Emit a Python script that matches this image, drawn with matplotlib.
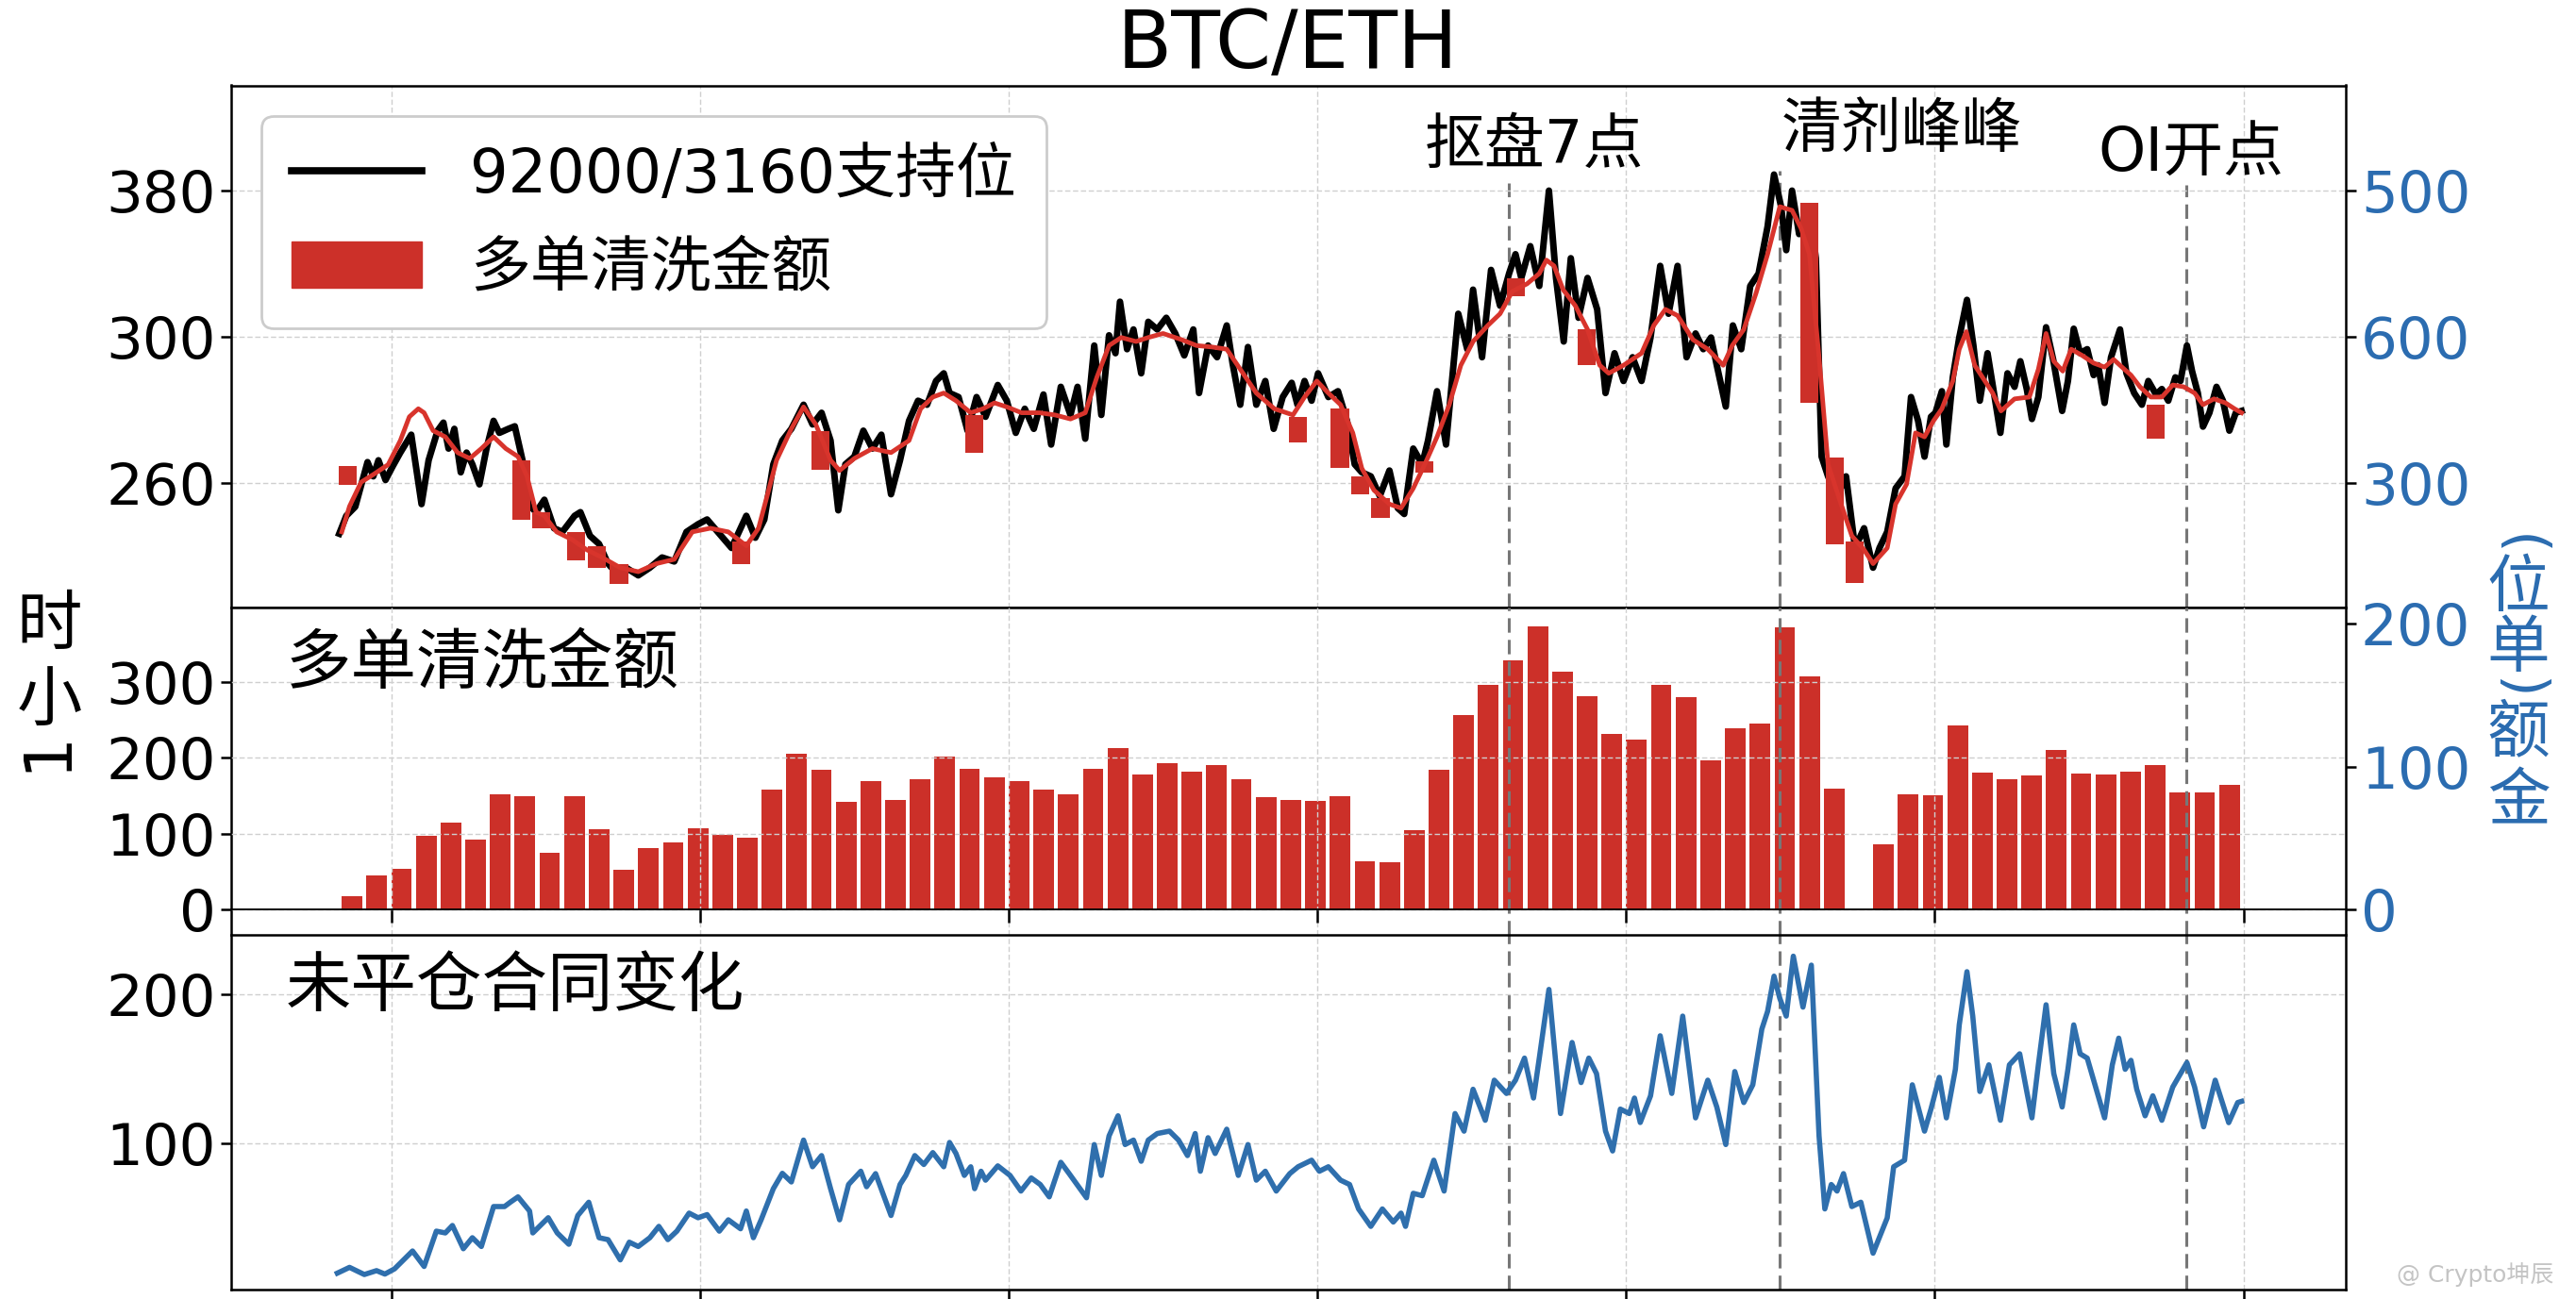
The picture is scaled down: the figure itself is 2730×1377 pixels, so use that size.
import numpy as np
import matplotlib.pyplot as plt
from matplotlib.lines import Line2D
from matplotlib.patches import Patch

plt.rcParams['font.family'] = ['DejaVu Sans', 'Noto Sans CJK SC']

RED = '#cc3029'
BLUE = '#2b6cb0'

# price panel, x in hours (tick every 48h), y on the panel's own scale
price_t = [-8.1, -7.0, -5.6, -3.7, -2.8, -2.0, -0.9, 0.2, 1.4, 3.1, 4.7, 5.8, 7.2, 8.1, 8.9, 9.8, 10.8, 11.7,
           12.6, 13.7, 14.8, 15.9, 16.8, 18.2, 19.2, 20.4, 21.3, 22.5, 23.8, 25.3, 26.6, 28.5, 29.4, 30.9, 32.3,
           33.7, 35.1, 36.5, 38.4, 40.2, 42.1, 44.0, 45.9, 47.7, 49.1, 51.0, 52.9, 55.2, 56.6, 58.0, 59.4, 60.8,
           62.2, 64.1, 65.5, 66.9, 68.3, 69.5, 70.6, 72.0, 73.4, 74.8, 76.2, 77.7, 79.1, 80.5, 81.9, 83.3, 84.7,
           85.9, 86.8, 88.2, 89.6, 91.0, 92.4, 94.3, 95.7, 97.1, 98.5, 99.9, 101.4, 102.6, 104.1, 105.6, 106.7,
           107.9, 109.3, 110.4, 111.6, 112.6, 113.3, 114.4, 115.4, 116.6, 117.7, 119.1, 120.5, 121.9, 123.3,
           124.7, 125.6, 127.0, 128.4, 129.9, 130.8, 132.0, 133.2, 134.5, 135.9, 137.2, 138.6, 140.0, 140.9,
           142.0, 143.1, 144.1, 145.7, 147.2, 148.6, 149.8, 150.9, 152.3, 153.7, 155.2, 156.5, 157.5, 158.9,
           160.3, 161.2, 162.6, 164.0, 165.9, 167.3, 168.2, 169.6, 171.0, 172.4, 173.8, 174.8, 175.7, 177.1,
           178.5, 180.0, 181.1, 182.3, 183.4, 184.6, 186.0, 187.5, 188.8, 190.2, 191.6, 193.0, 194.4, 195.8,
           197.3, 198.6, 200.0, 201.4, 202.8, 204.0, 205.2, 206.1, 207.5, 208.6, 209.9, 211.3, 212.6, 214.0,
           215.0, 216.1, 216.9, 217.8, 218.9, 220.5, 221.5, 222.4, 223.4, 224.8, 226.2, 227.6, 229.0, 230.4,
           231.4, 232.6, 233.9, 235.3, 236.3, 237.4, 238.4, 239.4, 240.1, 241.1, 241.8, 242.8, 243.8, 245.0,
           246.0, 247.0, 248.2, 250.2, 251.3, 252.4, 253.3, 254.3, 255.1, 256.1, 257.3, 258.4, 259.8, 260.7,
           261.6, 262.6, 263.7, 264.7, 265.4, 266.4, 267.4, 268.8, 269.8, 271.0, 272.2, 273.2, 274.4, 275.3,
           276.3, 277.4, 278.2, 279.2, 280.0, 280.9, 281.7, 282.7, 283.8, 284.8, 285.8, 286.8, 287.7]
price = [246.1, 251.0, 253.5, 265.7, 261.8, 266.2, 260.8, 264.5, 268.3, 273.2, 254.2, 266.2, 274.3, 276.5, 269.4,
         274.8, 262.9, 268.3, 265.1, 259.6, 269.4, 277.0, 273.7, 274.8, 275.5, 266.2, 254.2, 252.0, 255.4, 247.6,
         246.6, 251.0, 252.0, 245.5, 243.3, 237.9, 235.2, 236.8, 234.7, 236.8, 239.6, 238.5, 246.6, 248.7, 250.0,
         246.1, 242.2, 251.0, 245.0, 250.0, 265.1, 271.6, 274.8, 281.4, 276.0, 279.2, 271.6, 252.5, 265.1, 267.2,
         274.3, 269.4, 273.2, 256.9, 266.2, 277.0, 282.5, 281.4, 287.9, 290.0, 284.6, 283.5, 274.3, 283.5, 278.1,
         286.8, 282.5, 273.7, 280.3, 274.8, 284.2, 270.5, 286.3, 278.6, 286.3, 272.1, 297.6, 278.6, 300.4, 295.5,
         309.6, 296.6, 302.0, 290.0, 304.1, 302.0, 305.2, 300.9, 294.9, 302.0, 284.6, 297.6, 294.4, 303.1, 292.8,
         281.4, 297.2, 281.4, 287.9, 274.8, 283.5, 287.4, 281.4, 287.9, 282.5, 290.0, 283.5, 285.1, 277.0, 265.1,
         262.9, 261.8, 256.4, 263.4, 253.1, 251.5, 269.4, 265.1, 271.6, 285.1, 270.5, 306.3, 296.6, 312.9, 294.4,
         318.3, 308.5, 317.3, 322.6, 316.1, 324.8, 313.9, 340.0, 316.1, 298.7, 321.5, 305.2, 316.1, 307.5, 284.6,
         295.5, 287.9, 294.4, 287.9, 299.8, 319.4, 306.3, 319.4, 294.4, 300.9, 296.6, 299.8, 292.2, 280.9, 303.1,
         296.6, 313.9, 317.3, 330.2, 344.4, 335.6, 323.7, 340.0, 328.1, 335.6, 321.5, 267.2, 261.8, 256.4, 261.8,
         242.2, 247.6, 236.8, 242.2, 246.6, 258.5, 261.8, 283.5, 277.0, 267.2, 278.1, 279.2, 285.1, 270.5, 288.9,
         299.8, 310.1, 297.6, 282.5, 295.5, 273.7, 290.0, 286.3, 293.3, 285.7, 277.5, 283.5, 302.6, 293.8, 279.7,
         287.9, 302.2, 295.5, 296.6, 289.5, 292.2, 281.9, 294.4, 302.0, 290.0, 284.6, 281.4, 287.9, 284.2, 285.7,
         282.5, 288.9, 287.9, 297.6, 290.6, 284.6, 275.4, 279.2, 286.3, 282.5, 274.3, 279.2, 279.7]

ma_t = [-7.7, -6.5, -4.7, -2.8, -0.5, 1.4, 2.8, 4.2, 5.1, 6.5, 8.4, 10.3, 12.2, 14.0, 15.9, 17.8, 19.7, 21.1,
        22.5, 23.8, 25.7, 28.1, 30.4, 32.8, 35.6, 38.4, 41.2, 44.0, 46.8, 49.6, 52.4, 55.2, 57.1, 59.9, 62.2,
        64.1, 66.0, 68.3, 69.7, 72.0, 74.8, 77.7, 80.5, 82.3, 84.2, 85.9, 87.8, 90.1, 92.0, 93.8, 95.7, 98.0,
        100.8, 103.2, 105.6, 107.9, 109.7, 111.6, 113.5, 115.8, 117.7, 120.0, 122.9, 125.2, 127.6, 129.9,
        132.2, 134.5, 137.3, 140.2, 142.0, 143.9, 145.7, 147.6, 149.5, 150.9, 152.8, 155.2, 157.0, 158.9,
        160.7, 162.6, 164.5, 166.3, 168.2, 170.5, 172.4, 174.3, 176.6, 178.5, 179.6, 180.8, 182.2, 184.1,
        186.0, 187.9, 189.3, 191.6, 194.4, 196.3, 198.1, 200.0, 202.4, 204.7, 207.1, 208.5, 210.3, 212.2,
        214.0, 215.9, 217.8, 219.2, 220.5, 222.0, 223.4, 225.2, 227.1, 229.0, 230.4, 232.6, 233.9, 235.6,
        237.0, 238.4, 239.8, 241.1, 242.8, 243.8, 244.9, 246.2, 247.6, 249.0, 250.3, 252.4, 254.7, 256.1,
        257.3, 258.5, 259.9, 261.2, 262.9, 264.7, 266.4, 267.8, 269.1, 270.5, 271.9, 273.6, 275.3, 277.0,
        278.7, 280.4, 281.7, 283.4, 285.2, 286.6, 287.7]
ma = [246.6, 253.6, 260.2, 262.3, 265.0, 271.6, 278.1, 280.3, 279.2, 274.3, 272.6, 268.3, 266.7, 269.4, 272.6,
      269.4, 267.2, 261.8, 252.0, 251.0, 246.6, 244.5, 241.7, 239.6, 236.8, 235.7, 237.9, 239.1, 246.6, 247.6,
      246.6, 242.8, 247.6, 266.2, 274.8, 280.8, 276.0, 266.2, 263.4, 266.7, 269.4, 268.3, 271.6, 280.3, 283.5,
      284.6, 282.5, 279.2, 280.3, 281.9, 280.8, 279.2, 279.2, 278.6, 277.5, 279.2, 288.9, 297.6, 299.8, 298.7,
      299.8, 300.9, 299.2, 297.6, 297.2, 296.6, 290.6, 284.6, 280.3, 278.6, 283.5, 287.9, 284.6, 281.4, 273.7,
      264.0, 258.0, 254.2, 253.1, 258.5, 265.1, 272.6, 281.4, 292.2, 298.7, 303.1, 306.3, 312.4, 314.5, 317.3,
      321.0, 319.4, 312.9, 308.5, 302.0, 292.2, 290.0, 292.2, 295.5, 303.1, 307.5, 305.8, 299.2, 296.6, 292.2,
      297.6, 302.0, 311.9, 322.6, 335.6, 334.6, 329.7, 322.6, 294.4, 265.1, 255.4, 245.5, 241.7, 237.9, 242.2,
      254.2, 259.6, 273.7, 272.6, 277.0, 280.3, 287.9, 296.6, 301.4, 292.2, 288.4, 284.6, 279.7, 283.0, 283.5,
      291.1, 300.9, 293.3, 290.6, 296.6, 294.9, 292.8, 291.7, 293.8, 291.7, 289.5, 286.3, 283.5, 283.5, 286.8,
      286.3, 284.6, 281.4, 283.0, 281.9, 280.3, 279.2]

# red blocks hanging on the price line
wash_t = [-6.8, 20.2, 23.3, 28.7, 32.0, 35.4, 54.4, 66.7, 90.7, 140.9, 147.5, 150.7, 153.8, 160.6, 174.9,
          185.9, 220.5, 224.4, 227.5, 274.4]
wash_top = [264.5, 266.2, 252.0, 246.6, 242.7, 237.8, 243.9, 274.3, 278.6, 278.0, 280.3, 261.8, 255.9, 266.0,
            316.1, 302.0, 336.7, 267.0, 243.9, 281.4]
wash_bot = [259.5, 250.0, 247.6, 238.8, 236.8, 232.4, 237.7, 263.6, 268.3, 271.0, 264.0, 256.9, 250.4, 262.8,
            311.2, 292.2, 281.9, 243.3, 232.7, 272.1]

# long liquidation amount, one bar per ~4h
liq = [17, 45, 54, 97, 114, 92, 152, 150, 75, 149, 106, 52, 81, 89, 107, 98, 95, 158, 205, 184,
       142, 170, 145, 172, 202, 186, 174, 169, 158, 152, 185, 213, 178, 193, 182, 190, 172, 148, 145, 143,
       150, 64, 62, 104, 184, 257, 296, 329, 374, 314, 282, 232, 224, 296, 280, 197, 239, 245, 373, 308,
       159, 0, 86, 152, 151, 243, 181, 172, 177, 210, 180, 178, 182, 191, 154, 154, 164]

oi_t = [-8.4, -6.5, -4.2, -2.3, -1.0, 0.5, 3.3, 5.1, 7.0, 8.4, 9.5, 11.2, 12.6, 14.0, 15.9, 17.6, 18.5, 19.7,
        21.5, 22.0, 24.4, 25.8, 27.6, 29.0, 30.7, 32.3, 33.7, 35.6, 37.0, 38.4, 40.2, 41.6, 43.0, 44.4, 46.3,
        47.7, 49.1, 51.0, 52.4, 54.3, 55.2, 56.3, 57.5, 59.4, 60.8, 62.2, 64.1, 65.5, 66.9, 68.3, 69.7, 71.1,
        73.0, 73.9, 75.3, 77.7, 79.1, 80.0, 81.4, 82.8, 84.2, 85.9, 86.8, 87.8, 89.1, 90.1, 90.7, 91.7, 92.4,
        94.3, 96.2, 97.9, 99.5, 100.9, 102.3, 104.1, 105.4, 108.1, 109.3, 110.4, 111.6, 113.0, 114.1, 115.4,
        116.6, 117.7, 119.1, 121.0, 122.4, 123.8, 125.0, 125.8, 127.0, 128.1, 129.9, 131.7, 133.2, 134.5,
        135.9, 137.6, 139.7, 141.0, 143.1, 144.3, 145.7, 147.6, 149.0, 150.4, 152.3, 154.1, 155.8, 157.0,
        157.7, 158.9, 160.3, 162.1, 163.7, 165.4, 166.8, 168.2, 170.1, 171.5, 173.4, 174.8, 176.2, 177.6,
        178.5, 180.0, 181.8, 183.6, 185.0, 186.2, 187.4, 188.8, 189.9, 191.1, 192.5, 193.3, 194.2, 195.8,
        197.3, 199.1, 200.8, 202.8, 204.7, 206.1, 207.5, 208.9, 210.3, 211.7, 213.1, 214.0, 215.0, 215.9,
        216.9, 218.0, 219.5, 220.8, 222.0, 222.9, 223.9, 224.8, 225.8, 227.1, 228.5, 230.4, 232.6, 233.6,
        235.3, 236.5, 238.4, 239.4, 240.7, 241.8, 243.2, 243.8, 245.0, 245.9, 247.0, 248.4, 250.2, 251.6,
        253.2, 254.3, 255.1, 256.1, 257.3, 258.5, 259.8, 260.7, 261.6, 262.6, 263.7, 265.4, 266.4, 267.6,
        268.6, 269.6, 270.5, 271.4, 272.7, 273.9, 275.3, 277.0, 279.2, 280.4, 281.8, 283.6, 285.7, 287.1, 287.7]
oi = [12.9, 16.8, 12.0, 14.6, 12.3, 15.8, 27.8, 17.4, 41.1, 39.9, 44.9, 29.3, 36.7, 30.8, 57.6, 57.6, 60.5, 64.1,
      54.6, 39.9, 50.1, 39.9, 32.3, 51.6, 60.5, 36.7, 35.4, 21.8, 33.7, 30.8, 36.7, 44.3, 35.4, 41.1, 53.2,
      50.1, 52.2, 41.1, 48.7, 42.7, 54.6, 36.7, 48.7, 69.6, 79.9, 74.1, 102.2, 84.3, 91.8, 69.6, 48.7, 72.4,
      81.3, 70.9, 79.7, 51.6, 72.4, 78.5, 91.8, 85.8, 93.8, 84.3, 100.6, 93.2, 78.5, 84.3, 69.6, 81.3, 75.3,
      84.9, 78.5, 68.0, 76.8, 72.4, 64.1, 87.3, 79.7, 63.5, 99.2, 78.5, 105.0, 118.5, 99.2, 102.2,
      88.0, 102.2, 106.6, 108.2, 102.2, 91.8, 106.6, 81.3, 103.8, 93.2, 109.5, 78.5, 99.2, 75.3,
      81.3, 68.0, 79.7, 84.3, 88.7, 81.3, 84.3, 75.3, 72.4, 56.0, 44.3, 56.0, 47.2, 53.2,
      44.3, 66.5, 64.9, 88.7, 68.0, 120.0, 108.2, 136.3, 115.5, 142.4, 133.5, 142.4, 157.2, 130.4,
      157.2, 203.3, 120.0, 167.7, 140.8, 157.2, 146.8, 108.2, 94.9, 123.0, 120.0, 130.4, 114.0, 131.9,
      172.2, 133.5, 185.4, 117.1, 142.4, 124.4, 99.2, 148.2, 127.4, 139.3, 176.6, 188.6, 212.2, 197.3,
      185.4, 225.6, 191.4, 219.6, 105.0, 56.0, 72.4, 68.0, 79.7, 57.6, 60.5, 26.3, 50.0, 84.3,
      88.7, 139.3, 108.2, 123.0, 144.3, 117.1, 149.7, 179.5, 215.2, 185.4, 134.8, 152.7, 115.5, 152.7,
      160.1, 134.8, 117.1, 152.7, 193.0, 146.8, 124.4, 149.7, 179.5, 160.1, 157.2, 131.9, 117.1, 152.7,
      170.6, 149.7, 155.7, 136.3, 118.5, 131.9, 115.5, 137.8, 154.2, 137.8, 111.1, 142.4, 113.9, 127.4, 128.2]

left_tick_labels = ['260', '300', '380']
right_tick_labels = ['300', '600', '500']
event_t = [173.8, 215.9, 279.1]
event_names = ['抠盘7点', '清剂峰峰', 'OI开点']

W, H = 2730, 1377
fig = plt.figure(figsize=(W / 100, H / 100), dpi=100)


def fy(px):
    return 1 - px / H


L, R = 245 / W, 2486 / W
ax1 = fig.add_axes([L, fy(644), R - L, fy(90.5) - fy(644)])
ax2 = fig.add_axes([L, fy(991), R - L, fy(644) - fy(991)], sharex=ax1)
ax3 = fig.add_axes([L, fy(1367), R - L, fy(991) - fy(1367)], sharex=ax1)

grid_kw = dict(color='#cfcfcf', linestyle=(0, (4, 2)), linewidth=1.0)
for ax in (ax1, ax2, ax3):
    ax.grid(True, **grid_kw)
    for s in ax.spines.values():
        s.set_linewidth(1.8)
    ax.tick_params(axis='y', labelsize=44, length=8, width=1.8)
    ax.tick_params(axis='x', labelbottom=False, length=10, width=1.8)

ax1.set_xlim(-24.9, 303.9)
ax1.set_xticks(np.arange(0, 289, 48))

# top panel
y1 = (225.9, 368.8)
ax1.plot(price_t, price, color='black', lw=5, zorder=2)
bot = np.array(wash_bot)
ax1.bar(wash_t, np.array(wash_top) - bot, bottom=bot, width=2.8, color=RED, zorder=3)
ax1.plot(ma_t, ma, color='#d8342c', lw=3.5, zorder=4)
ax1.set_ylim(*y1)
ax1.set_yticks([260, 300, 340])
ax1.set_yticklabels(left_tick_labels)
ax1.tick_params(axis='x', length=0)

ax1r = ax1.twinx()
ax1r.set_ylim(*y1)
ax1r.set_yticks([260, 300, 340])
ax1r.set_yticklabels(right_tick_labels)
ax1r.tick_params(axis='y', labelsize=44, length=8, width=1.8, labelcolor=BLUE)
for s in ax1r.spines.values():
    s.set_visible(False)

leg = ax1.legend(handles=[Line2D([], [], color='black', lw=5.5), Patch(color=RED)],
                 labels=['92000/3160支持位', '多单清洗金额'],
                 loc='upper left', bbox_to_anchor=(0.0143, 0.9413), borderaxespad=0,
                 fontsize=46, handlelength=2.16, handleheight=0.8, handletextpad=0.8,
                 labelspacing=0.58, borderpad=0.5, fancybox=True, edgecolor='#cccccc', framealpha=1)
leg.get_frame().set_linewidth(2)

# middle panel
bar_x = np.linspace(-6.1, 285.8, len(liq))
ax2.bar(bar_x, liq, width=3.2, color=RED, linewidth=0, zorder=1)
ax2.set_axisbelow(False)
ax2.set_ylim(-33.75, 398.75)
ax2.set_yticks([0, 100, 200, 300])
ax2.spines['bottom'].set_position(('data', 0))
ax2.spines['bottom'].set_linewidth(1.4)
ax2.spines['bottom'].set_zorder(4)

ax2r = ax2.twinx()
ax2r.set_ylim(-17.9, 211.3)
ax2r.set_yticks([0, 100, 200])
ax2r.tick_params(axis='y', labelsize=44, length=8, width=1.8, labelcolor=BLUE)
for s in ax2r.spines.values():
    s.set_visible(False)

# bottom panel
ax3.plot(oi_t, oi, color='#2f6fad', lw=4)
ax3.set_ylim(1.9, 239.9)
ax3.set_yticks([100, 200])

# event markers
vkw = dict(color='#777777', linestyle=(0, (5, 2.5)), linewidth=2.2)
event_tops = [342.1, 345.4, 341.5]
for t, top in zip(event_t, event_tops):
    ax1.vlines(t, y1[0], top, zorder=1.5, **vkw)
    ax2.axvline(t, zorder=3, **vkw)
    ax3.axvline(t, zorder=1.5, **vkw)
label_pos = [(177.7, 352.1), (234.9, 356.5), (279.8, 350.1)]
for name, (x, y) in zip(event_names, label_pos):
    ax1.text(x, y, name, ha='center', va='center', fontsize=46, zorder=6)

fig.text(0.5, fy(72), 'BTC/ETH', ha='center', va='baseline', fontsize=61)
fig.text(303 / W, fy(705), '多单清洗金额', va='center', fontsize=50)
fig.text(303 / W, fy(1047), '未平仓合同变化', va='center', fontsize=50)

# left axis caption, stacked
fig.text(52 / W, fy(664), '时', ha='center', va='center', fontsize=50)
fig.text(52 / W, fy(743), '小', ha='center', va='center', fontsize=50)
fig.text(50 / W, fy(796), '1', ha='center', va='center', fontsize=50, rotation=90)

# right axis caption, stacked (brackets lie on their side)
for ch, y, rot, fs in zip(['(', '位', '单', ')', '额', '金'], [578, 624, 688, 730, 777, 850],
                          [-90, 0, 0, -90, 0, 0], [44, 48, 48, 44, 48, 48]):
    fig.text(2669 / W, fy(y), ch, ha='center', va='center', fontsize=fs, color=BLUE, rotation=rot)

fig.text(2540 / W, fy(1351), '@ Crypto坤辰', va='center', fontsize=18, color='#c4c4c4')

fig.savefig('out.png', dpi=100)
